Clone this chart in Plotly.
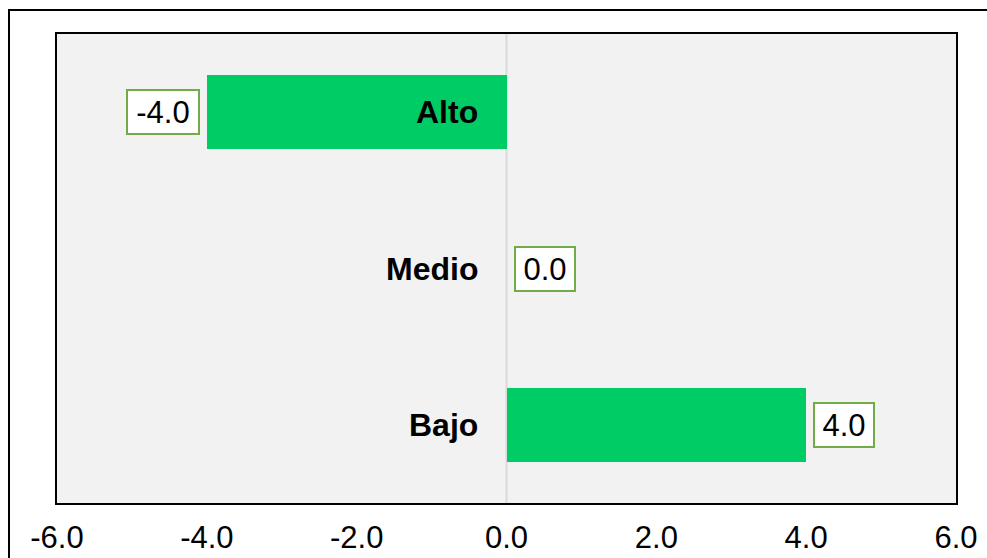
import plotly.graph_objects as go

categories = ["Alto", "Medio", "Bajo"]
values = [-4.0, 0.0, 4.0]
tick_vals = [-6, -4, -2, 0, 2, 4, 6]
tick_text = ["-6.0", "-4.0", "-2.0", "0.0", "2.0", "4.0", "6.0"]

BAR = "#00cc66"
FONT = "Liberation Sans, Arial, sans-serif"

fig = go.Figure()
fig.add_trace(go.Bar(
    y=categories, x=values, orientation="h",
    marker=dict(color=BAR, line=dict(width=0)),
    width=0.47, hoverinfo="skip",
))

annotations = []
for c, v in zip(categories, values):
    txt = f"{v:.1f}"
    if v < 0:
        anchor, shift = "right", -7
    else:
        anchor, shift = "left", 7
    annotations.append(dict(
        x=v, y=c, xref="x", yref="y", text=txt, showarrow=False,
        xanchor=anchor, yanchor="middle", xshift=shift,
        width=60 if len(txt) > 3 else 48, height=32, align="center",
        font=dict(family=FONT, size=31, color="black"),
        bgcolor="white", bordercolor="#70ad47", borderwidth=2, borderpad=5,
    ))
    annotations.append(dict(
        x=0, y=c, xref="x", yref="y", text=f"<b>{c}</b>", showarrow=False,
        xanchor="right", yanchor="middle", xshift=-27,
        font=dict(family=FONT, size=32, color="black"),
    ))

shapes = [
    dict(type="line", xref="x", yref="paper", x0=0, x1=0, y0=0, y1=1,
         line=dict(color="#d9d9d9", width=2), layer="below"),
    dict(type="rect", xref="paper", yref="paper",
         x0=-0.0534, x1=1.06, y0=-0.2, y1=1.0512,
         line=dict(color="black", width=2), fillcolor="rgba(0,0,0,0)"),
]

fig.update_layout(
    width=987, height=558,
    margin=dict(l=57, r=31, t=34, b=55),
    paper_bgcolor="white", plot_bgcolor="#f2f2f2",
    showlegend=False,
    annotations=annotations, shapes=shapes,
    bargap=0,
    xaxis=dict(
        range=[-6, 6], tickvals=tick_vals, ticktext=tick_text,
        showgrid=False, zeroline=False, automargin=False,
        showline=True, linecolor="black", linewidth=2, mirror=True,
        ticks="outside", ticklen=6, tickcolor="rgba(0,0,0,0)",
        tickfont=dict(family=FONT, size=31, color="black"),
    ),
    yaxis=dict(
        categoryorder="array", categoryarray=categories[::-1],
        range=[-0.5, 2.5], showticklabels=False, showgrid=False, zeroline=False,
        automargin=False,
        showline=True, linecolor="black", linewidth=2, mirror=True, ticks="",
    ),
)

fig.write_html("out.html")
